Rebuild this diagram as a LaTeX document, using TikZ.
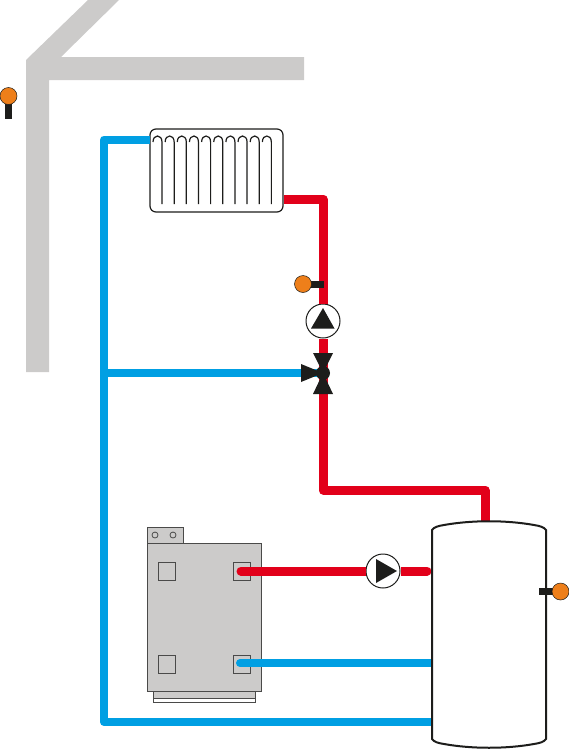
\documentclass[tikz,border=0pt]{standalone}
\usepackage{xcolor}
\usetikzlibrary{positioning, calc}
\definecolor{wallgray}{HTML}{CCCBCA}
\definecolor{pipered}{HTML}{E2001A}
\definecolor{pipeblue}{HTML}{009FE3}
\definecolor{sensorcol}{HTML}{EE7F1A}
\definecolor{darkcol}{HTML}{1D1D1B}
\tikzset{
  hotpipe/.style={draw=pipered, line width=9pt, line join=round},
  coldpipe/.style={draw=pipeblue, line width=8pt, line join=round},
  pumpnode/.style={circle, draw=darkcol, line width=1pt, fill=white, minimum size=34pt, inner sep=0pt},
  radiatornode/.style={rectangle, draw=darkcol, line width=1.2pt, fill=white, rounded corners=6pt,
    minimum width=133pt, minimum height=83pt, inner sep=0pt},
  sensorhead/.style={circle, draw=darkcol, line width=0.5pt, fill=sensorcol, minimum size=17pt, inner sep=0pt},
  sensorstem/.style={fill=darkcol},
  boilerpart/.style={draw=darkcol!80, line width=0.8pt},
}
\begin{document}
\begin{tikzpicture}[x=1pt, y=-1pt]
  \useasboundingbox (0,0) rectangle (569,750);

  % wall and roof
  \fill[wallgray] (88,0) -- (119,0) -- (61,57) -- (304,57) -- (304,80) -- (49,80)
    -- (49,372) -- (26,372) -- (26,60) -- cycle;

  % boiler
  \filldraw[boilerpart, fill=wallgray] (153,691) rectangle (255,698);
  \draw[boilerpart, fill=white] (153,698) rectangle (255,702);
  \filldraw[boilerpart, fill=wallgray] (147,527) rectangle (183,543);
  \filldraw[boilerpart, fill=wallgray] (147,543) rectangle (261,691);
  \foreach \x in {155,173} {
    \draw[boilerpart] (\x,535) circle (3);
  }
  \foreach \x/\y in {158/562, 233/562, 158/655, 233/655} {
    \draw[boilerpart] (\x,\y) rectangle ++(17,18);
  }

  % radiator, pumps and named points of the pipes
  \node[radiatornode] (radiator) at (216.5,170.5) {};
  \node[pumpnode] (pumpA) at (323,321) {};
  \node[pumpnode] (pumpB) at (383,571) {};
  \coordinate (valve) at (323,373);
  \coordinate (C1) at (150,139.5);
  \coordinate (C2) at (104,139.5);
  \coordinate (C3) at (104,722);
  \coordinate (C4) at (431,722);
  \coordinate (C5) at (104,373);
  \coordinate (C6) at (240,663);
  \coordinate (C7) at (431,663);
  \coordinate (H1) at (283.5,199);
  \coordinate (H2) at (323,199);
  \coordinate (H3) at (323,490);
  \coordinate (H4) at (485,490);
  \coordinate (H5) at (485,523);
  \coordinate (H6) at (241,571);
  \coordinate (H7) at (427,571);
  \coordinate (H8) at (260,571);
  \coordinate (H9) at (410,571);

  % pipes
  \draw[coldpipe] (C1) -- (C2) -- (C3) -- (C4);
  \draw[coldpipe] (C5) -- (valve);
  \draw[coldpipe, line cap=round] (C6) -- (C7);
  \draw[hotpipe] (H1) -- (H2) -- (pumpA);
  \draw[hotpipe] (pumpA) -- (valve);
  \draw[hotpipe] (valve) -- (H3) -- (H4) -- (H5);
  \draw[hotpipe] (H8) -- (pumpB);
  \draw[hotpipe] (pumpB) -- (H9);
  \draw[hotpipe, line cap=round] (H6) -- (H8);
  \draw[hotpipe, line cap=round] (H9) -- (H7);

  % radiator fins
  \foreach \k in {0,...,9} {
    \draw[darkcol, line width=1.2pt] ($(153,142)+(12.15*\k,0)$) .. controls ($(153,134)+(12.15*\k,0)$) and ($(162,134)+(12.15*\k,0)$) .. ($(162,142)+(12.15*\k,0)$) -- ($(162,204)+(12.15*\k,0)$);
  }

  % storage tank
  \draw[darkcol, line width=2pt, fill=white] (432,530) .. controls (434,527) and (438,526) .. (444,525)
    .. controls (472,520) and (506,520) .. (534,525) .. controls (540,526) and (544,527) .. (546,530)
    -- (546,739) .. controls (544,742) and (540,743) .. (534,744)
    .. controls (506,749) and (472,749) .. (444,744) .. controls (438,743) and (434,742) .. (432,739) -- cycle;

  % pump symbols
  \fill[darkcol] (323,308) -- (334.5,328.5) -- (311,328.5) -- cycle;
  \fill[darkcol] (376,559) -- (397,571) -- (376,583) -- cycle;

  % mixing valve
  \fill[darkcol] (313,353) -- (333,353) -- (323,373) -- cycle;
  \fill[darkcol] (313,394) -- (333,394) -- (323,373) -- cycle;
  \fill[darkcol] (301,364) -- (301,382) -- (323,373) -- cycle;
  \fill[darkcol] (valve) circle (7);

  % sensors
  \fill[sensorstem] (5,104) rectangle (12,119);
  \node[sensorhead] (sensorA) at (8.5,96) {};
  \fill[sensorstem] (310,281) rectangle (324,287.5);
  \node[sensorhead] (sensorB) at (303,284) {};
  \fill[sensorstem] (539,588) rectangle (555,595);
  \node[sensorhead] (sensorC) at (560.5,591.5) {};
\end{tikzpicture}
\end{document}
